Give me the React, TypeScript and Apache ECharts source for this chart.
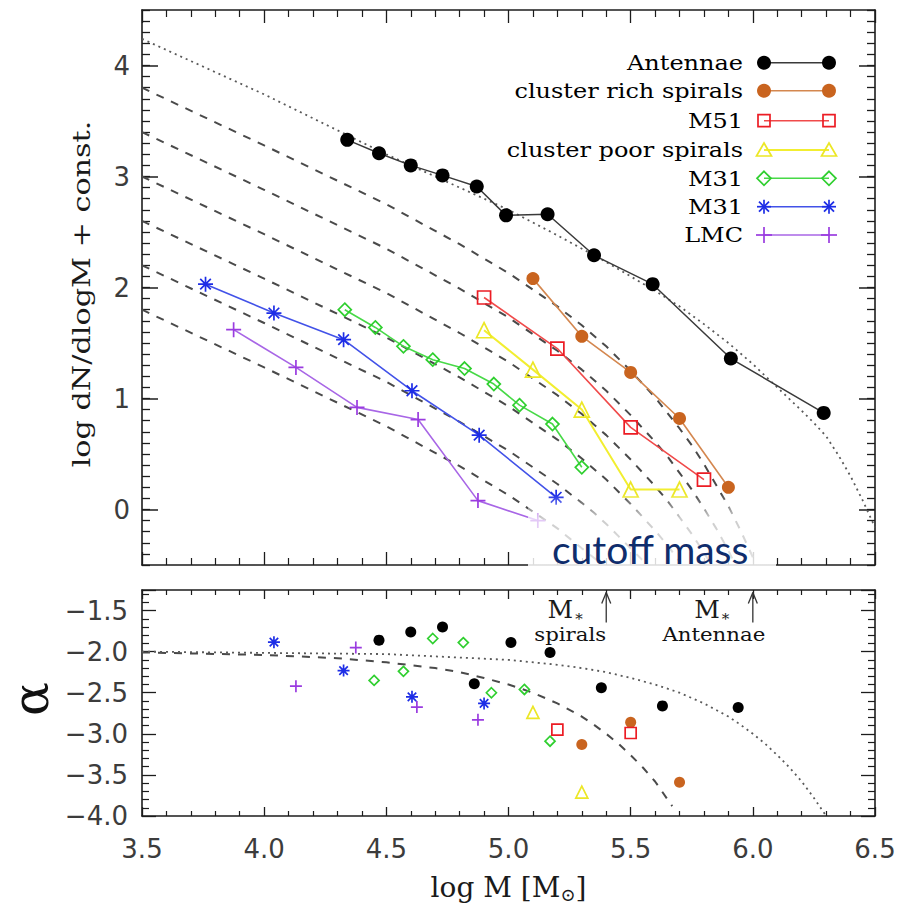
import React, { useEffect, useRef } from "react";
import * as echarts from "echarts";

// ---------------- Data ----------------
// Upper panel: log dN/dlogM + const. versus log M
const antennae: number[][] = [[4.34, 3.33], [4.47, 3.21], [4.60, 3.10], [4.73, 3.01], [4.87, 2.91], [4.99, 2.65], [5.16, 2.66], [5.35, 2.29], [5.59, 2.03], [5.91, 1.36], [6.29, 0.87]];
const clusterRichSpirals: number[][] = [[5.10, 2.08], [5.30, 1.56], [5.50, 1.235], [5.70, 0.82], [5.90, 0.20]];
const m51: number[][] = [[4.90, 1.91], [5.20, 1.45], [5.50, 0.74], [5.80, 0.27]];
const clusterPoorSpirals: number[][] = [[4.90, 1.615], [5.10, 1.26], [5.30, 0.90], [5.50, 0.18], [5.70, 0.18]];
const m31Diamonds: number[][] = [[4.33, 1.80], [4.455, 1.64], [4.57, 1.47], [4.69, 1.35], [4.82, 1.27], [4.94, 1.13], [5.045, 0.94], [5.18, 0.77], [5.30, 0.38]];
const m31Stars: number[][] = [[3.76, 2.03], [4.04, 1.77], [4.325, 1.53], [4.605, 1.07], [4.88, 0.67], [5.195, 0.11]];
const lmc: number[][] = [[3.875, 1.62], [4.13, 1.28], [4.38, 0.92], [4.63, 0.81], [4.875, 0.08], [5.12, -0.10]];

// Upper panel fitted curves (dotted: Antennae, dashed: spirals family)
const antennaeFit: number[][] = [[3.5, 4.24], [4.0, 3.74], [4.5, 3.20], [5.0, 2.70], [5.2, 2.47], [5.4, 2.23], [5.5, 2.10], [5.6, 1.97], [5.7, 1.83], [5.8, 1.67], [5.9, 1.50], [6.0, 1.31], [6.1, 1.10], [6.2, 0.89], [6.25, 0.78], [6.3, 0.66], [6.35, 0.49], [6.4, 0.30], [6.45, 0.08], [6.5, -0.16]];
const spiralFit1: number[][] = [[3.5, 3.80], [4.0, 3.28], [4.5, 2.75], [4.8, 2.39], [5.0, 2.13], [5.1, 1.98], [5.2, 1.83], [5.3, 1.66], [5.4, 1.47], [5.5, 1.25], [5.6, 1.01], [5.7, 0.73], [5.75, 0.58], [5.8, 0.41], [5.85, 0.22], [5.9, 0.03], [5.95, -0.19], [6.0, -0.43]];
const spiralFit2: number[][] = [[3.5, 3.40], [4.0, 2.88], [4.5, 2.35], [4.8, 1.99], [5.0, 1.73], [5.1, 1.58], [5.2, 1.43], [5.3, 1.26], [5.4, 1.07], [5.5, 0.85], [5.6, 0.61], [5.65, 0.48], [5.7, 0.33], [5.75, 0.18], [5.8, 0.01], [5.85, -0.17], [5.9, -0.37], [5.92, -0.46]];
const spiralFit3: number[][] = [[3.5, 3.00], [4.0, 2.48], [4.5, 1.95], [4.8, 1.59], [5.0, 1.33], [5.1, 1.18], [5.2, 1.03], [5.3, 0.86], [5.4, 0.67], [5.5, 0.45], [5.55, 0.33], [5.6, 0.21], [5.65, 0.08], [5.7, -0.07], [5.75, -0.22], [5.8, -0.39], [5.82, -0.46]];
const spiralFit4: number[][] = [[3.5, 2.60], [4.0, 2.08], [4.5, 1.55], [4.8, 1.19], [5.0, 0.93], [5.1, 0.78], [5.2, 0.63], [5.3, 0.46], [5.4, 0.27], [5.45, 0.16], [5.5, 0.05], [5.55, -0.07], [5.6, -0.19], [5.65, -0.32], [5.7, -0.47]];
const spiralFit5: number[][] = [[3.5, 2.20], [4.0, 1.68], [4.5, 1.15], [4.8, 0.79], [5.0, 0.53], [5.1, 0.38], [5.2, 0.23], [5.3, 0.06], [5.35, -0.03], [5.4, -0.13], [5.45, -0.24], [5.5, -0.35], [5.55, -0.46]];
const spiralFit6: number[][] = [[3.5, 1.80], [4.0, 1.28], [4.5, 0.75], [4.8, 0.39], [4.9, 0.26], [5.0, 0.13], [5.1, -0.02], [5.2, -0.17], [5.25, -0.26], [5.3, -0.35], [5.37, -0.47]];

// Lower panel: local slope alpha versus log M
const antennaeAlpha: number[][] = [[4.47, -1.86], [4.60, -1.76], [4.73, -1.70], [4.86, -2.39], [5.01, -1.89], [5.17, -2.01], [5.38, -2.44], [5.63, -2.66], [5.94, -2.68]];
const richAlpha: number[][] = [[5.30, -3.13], [5.50, -2.86], [5.70, -3.59]];
const m51Alpha: number[][] = [[5.20, -2.95], [5.50, -2.99]];
const poorAlpha: number[][] = [[5.10, -2.74], [5.30, -3.71]];
const m31DiamondAlpha: number[][] = [[4.45, -2.35], [4.57, -2.24], [4.69, -1.84], [4.815, -1.89], [4.93, -2.50], [5.065, -2.46], [5.17, -3.09]];
const m31StarAlpha: number[][] = [[4.04, -1.885], [4.325, -2.23], [4.605, -2.55], [4.90, -2.63]];
const lmcAlpha: number[][] = [[4.13, -2.42], [4.375, -1.95], [4.625, -2.675], [4.875, -2.83]];
const spiralAlphaFit: number[][] = [[3.5, -2.01], [4.0, -2.04], [4.3, -2.08], [4.5, -2.13], [4.7, -2.20], [4.8, -2.25], [4.9, -2.32], [5.0, -2.40], [5.1, -2.50], [5.2, -2.63], [5.3, -2.79], [5.35, -2.89], [5.4, -3.00], [5.45, -3.12], [5.5, -3.26], [5.55, -3.41], [5.6, -3.58], [5.67, -3.88]];
const antennaeAlphaFit: number[][] = [[3.5, -2.00], [4.5, -2.03], [5.0, -2.10], [5.2, -2.16], [5.3, -2.20], [5.4, -2.25], [5.5, -2.32], [5.6, -2.40], [5.7, -2.50], [5.8, -2.63], [5.9, -2.79], [5.95, -2.89], [6.0, -3.00], [6.05, -3.12], [6.1, -3.26], [6.15, -3.41], [6.2, -3.58], [6.25, -3.78], [6.3, -4.00]];

// Cutoff masses marked with arrows (log M*) and arrow extent in alpha
const mStarSpirals = 5.4;
const mStarAntennae = 6.0;
const arrowAlpha = [-1.28, -1.645];

// Names, tick values
const seriesNames = ["Antennae", "cluster rich spirals", "M51", "cluster poor spirals", "M31", "M31", "LMC"];
const topYTickValues = [0, 1, 2, 3, 4];
const xRange = [3.5, 6.5];
const topYRange = [-0.5, 4.5];
const alphaRange = [-4.0, -1.25];

// ---------------- Styling ----------------
type Kind = "circle" | "square" | "triangle" | "diamond" | "asterisk" | "plus";
const ASTERISK_PATH = "path://M0,-10L0,10M-10,0L10,0M-7.07,-7.07L7.07,7.07M-7.07,7.07L7.07,-7.07";
const PLUS_PATH = "path://M0,-10L0,10M-10,0L10,0";
const symbolOf: Record<Kind, string> = {
  circle: "circle",
  square: "rect",
  triangle: "triangle",
  diamond: "diamond",
  asterisk: ASTERISK_PATH,
  plus: PLUS_PATH,
};

interface Spec { kind: Kind; mark: string; line: string; lw: number; sTop: number; sBot: number; top: number[][]; bottom: number[][] }
const specs: Spec[] = [
  { kind: "circle", mark: "#000000", line: "#3a3a3a", lw: 1.5, sTop: 14, sBot: 11, top: antennae, bottom: antennaeAlpha },
  { kind: "circle", mark: "#c9641f", line: "#d4874f", lw: 1.6, sTop: 13, sBot: 11, top: clusterRichSpirals, bottom: richAlpha },
  { kind: "square", mark: "#ec1c24", line: "#f04a4a", lw: 1.6, sTop: 13, sBot: 11, top: m51, bottom: m51Alpha },
  { kind: "triangle", mark: "#ece726", line: "#f2ee30", lw: 2, sTop: 15, sBot: 12, top: clusterPoorSpirals, bottom: poorAlpha },
  { kind: "diamond", mark: "#2fcf2f", line: "#47d947", lw: 1.6, sTop: 13, sBot: 10, top: m31Diamonds, bottom: m31DiamondAlpha },
  { kind: "asterisk", mark: "#1d2de6", line: "#4252e8", lw: 1.6, sTop: 15, sBot: 12, top: m31Stars, bottom: m31StarAlpha },
  { kind: "plus", mark: "#9a3be0", line: "#a866e6", lw: 1.6, sTop: 15, sBot: 12, top: lmc, bottom: lmcAlpha },
];

const itemStyleOf = (s: Spec) =>
  s.kind === "circle"
    ? { color: s.mark, borderWidth: 0, opacity: 1 }
    : { color: "rgba(255,255,255,0)", borderColor: s.mark, borderWidth: 1.7, opacity: 1 };

const FRAME = "#1c1c1c";
const LABEL = "#3c3c3c";
const SERIF = "DejaVu Serif";
const SANS = "DejaVu Sans";

function xAxisOf(gridIndex: number, position: "top" | "bottom", big: boolean, labels: boolean): any {
  return {
    type: "value",
    gridIndex,
    position,
    min: xRange[0],
    max: xRange[1],
    interval: 0.5,
    axisLine: { show: true, onZero: false, lineStyle: { color: FRAME, width: 1.6 } },
    axisTick: { show: true, inside: true, length: big ? 13 : 9, lineStyle: { color: FRAME, width: 1.3 } },
    minorTick: { show: true, splitNumber: 5, length: big ? 7 : 5, lineStyle: { color: FRAME, width: 1.2 } },
    splitLine: { show: false },
    axisLabel: labels
      ? {
          show: true,
          margin: 20,
          fontFamily: SANS,
          fontSize: 26,
          color: LABEL,
          alignMinLabel: "center",
          alignMaxLabel: "center",
          formatter: (v: number) => v.toFixed(1),
        }
      : { show: false },
  };
}

function fineY(position: "left" | "right", labels: boolean): any {
  return {
    type: "value",
    gridIndex: 0,
    position,
    min: topYRange[0],
    max: topYRange[1],
    interval: 0.1,
    axisLine: { show: true, onZero: false, lineStyle: { color: FRAME, width: 1.6 } },
    axisTick: { show: true, inside: true, length: 8, lineStyle: { color: FRAME, width: 1.3 } },
    splitLine: { show: false },
    axisLabel: labels
      ? {
          show: true,
          margin: 12,
          fontFamily: SANS,
          fontSize: 26,
          color: LABEL,
          formatter: (v: number) => {
            const r = Math.round(v);
            return Math.abs(v - r) < 1e-6 && topYTickValues.includes(r) ? String(r) : "";
          },
        }
      : { show: false },
  };
}

function majorY(position: "left" | "right"): any {
  return {
    type: "value",
    gridIndex: 0,
    position,
    min: topYRange[0],
    max: topYRange[1],
    axisLine: { show: false },
    axisTick: { show: true, inside: true, length: 16, customValues: topYTickValues, lineStyle: { color: FRAME, width: 1.5 } },
    axisLabel: { show: false },
    splitLine: { show: false },
  };
}

function alphaY(position: "left" | "right", labels: boolean): any {
  return {
    type: "value",
    gridIndex: 1,
    position,
    min: alphaRange[0],
    max: alphaRange[1],
    interval: 0.5,
    axisLine: { show: true, onZero: false, lineStyle: { color: FRAME, width: 1.6 } },
    axisTick: { show: true, inside: true, length: 14, lineStyle: { color: FRAME, width: 1.3 } },
    minorTick: { show: true, splitNumber: 5, length: 7, lineStyle: { color: FRAME, width: 1.2 } },
    splitLine: { show: false },
    axisLabel: labels
      ? {
          show: true,
          margin: 14,
          fontFamily: SANS,
          fontSize: 26,
          color: LABEL,
          showMaxLabel: false,
          formatter: (v: number) =>
            Math.abs(v * 2 - Math.round(v * 2)) < 1e-6 ? v.toFixed(1).replace("-", "\u2212") : "",
        }
      : { show: false },
  };
}

function curve(data: number[][], top: boolean, dotted: boolean): any {
  return {
    type: "line",
    xAxisIndex: top ? 0 : 2,
    yAxisIndex: top ? 0 : 4,
    data,
    smooth: false,
    showSymbol: false,
    symbol: "none",
    silent: true,
    z: 1,
    lineStyle: dotted
      ? { color: "#5a5a5a", width: 1.8, type: [2, 4] }
      : { color: "#4a4a4a", width: 2, type: [8, 8] },
  };
}

function legendMarker(kind: Kind, cx: number, cy: number, color: string): any[] {
  const open = { fill: "none", stroke: color, lineWidth: 1.7 };
  switch (kind) {
    case "circle":
      return [{ type: "circle", z: 120, shape: { cx, cy, r: 7 }, style: { fill: color } }];
    case "square":
      return [{ type: "rect", z: 120, shape: { x: cx - 6, y: cy - 6, width: 12, height: 12 }, style: open }];
    case "triangle":
      return [{ type: "polygon", z: 120, shape: { points: [[cx, cy - 7], [cx + 7.5, cy + 6], [cx - 7.5, cy + 6]] }, style: open }];
    case "diamond":
      return [{ type: "polygon", z: 120, shape: { points: [[cx, cy - 7], [cx + 7, cy], [cx, cy + 7], [cx - 7, cy]] }, style: open }];
    case "asterisk":
      return [
        [0, -7, 0, 7], [-7, 0, 7, 0], [-5, -5, 5, 5], [-5, 5, 5, -5],
      ].map((d) => ({ type: "line", z: 120, shape: { x1: cx + d[0], y1: cy + d[1], x2: cx + d[2], y2: cy + d[3] }, style: { stroke: color, lineWidth: 1.7 } }));
    case "plus":
      return [
        [0, -8, 0, 8], [-8, 0, 8, 0],
      ].map((d) => ({ type: "line", z: 120, shape: { x1: cx + d[0], y1: cy + d[1], x2: cx + d[2], y2: cy + d[3] }, style: { stroke: color, lineWidth: 1.7 } }));
  }
  return [];
}

export default function App() {
  const ref = useRef<HTMLDivElement>(null);

  useEffect(() => {
    if (!ref.current) return;
    const chart = echarts.init(ref.current, null, { renderer: "svg" });

    const series: any[] = [
      curve(antennaeFit, true, true),
      curve(spiralFit1, true, false),
      curve(spiralFit2, true, false),
      curve(spiralFit3, true, false),
      curve(spiralFit4, true, false),
      curve(spiralFit5, true, false),
      curve(spiralFit6, true, false),
      curve(spiralAlphaFit, false, false),
      curve(antennaeAlphaFit, false, true),
    ];
    specs.forEach((s, i) => {
      series.push({
        type: "line",
        name: seriesNames[i],
        xAxisIndex: 0,
        yAxisIndex: 0,
        data: s.top,
        symbol: symbolOf[s.kind],
        symbolSize: s.sTop,
        showSymbol: true,
        silent: true,
        z: 3,
        lineStyle: { color: s.line, width: s.lw },
        itemStyle: itemStyleOf(s),
        emphasis: { disabled: true },
      });
      series.push({
        type: "scatter",
        name: seriesNames[i] + " alpha",
        xAxisIndex: 2,
        yAxisIndex: 4,
        data: s.bottom,
        symbol: symbolOf[s.kind],
        symbolSize: s.sBot,
        silent: true,
        z: 3,
        itemStyle: itemStyleOf(s),
        emphasis: { disabled: true },
      });
    });

    const bottomX = xAxisOf(1, "bottom", false, true);
    bottomX.name = "log M [M{s|\u2299}]";
    bottomX.nameLocation = "middle";
    bottomX.nameGap = 55;
    bottomX.nameTextStyle = {
      fontFamily: SERIF,
      fontSize: 28,
      color: "#1a1a1a",
      rich: { s: { fontFamily: SERIF, fontSize: 18, color: "#1a1a1a", padding: [14, 0, 0, 0] } },
    };

    chart.setOption({
      animation: false,
      backgroundColor: "#ffffff",
      grid: [
        { left: 142, right: 25, top: 10, bottom: 342 },
        { left: 142, right: 25, top: 590, bottom: 91 },
      ],
      xAxis: [
        xAxisOf(0, "bottom", true, false),
        xAxisOf(0, "top", true, false),
        bottomX,
        xAxisOf(1, "top", false, false),
      ],
      yAxis: [
        fineY("left", true),
        majorY("left"),
        fineY("right", false),
        majorY("right"),
        alphaY("left", true),
        alphaY("right", false),
      ],
      series,
    });

    // ----- graphics: axis titles, legend, fade + "cutoff mass", M* arrows -----
    const g: any[] = [];
    g.push({
      type: "text",
      z: 120,
      x: 82,
      y: 294,
      rotation: Math.PI / 2,
      scaleX: 1.26,
      style: { text: "log dN/dlogM + const.", font: `24px '${SERIF}'`, fill: "#1a1a1a", align: "center", verticalAlign: "middle" },
    });
    g.push({
      type: "text",
      z: 120,
      x: 31,
      y: 699,
      rotation: Math.PI / 2,
      style: { text: "\u03b1", font: `50px '${SERIF}'`, lineHeight: 34, fill: "#111", align: "center", verticalAlign: "middle" },
    });
    g.push({
      type: "rect",
      z: 100,
      shape: { x: 528, y: 494, width: 248, height: 76 },
      style: {
        fill: {
          type: "linear", x: 0, y: 0, x2: 0, y2: 1,
          colorStops: [
            { offset: 0, color: "rgba(255,255,255,0)" },
            { offset: 0.32, color: "rgba(255,255,255,0.72)" },
            { offset: 1, color: "rgba(255,255,255,0.86)" },
          ],
        },
      },
    });
    g.push({
      type: "text",
      z: 110,
      x: 552,
      y: 549,
      style: { text: "cutoff mass", font: "39px Lato", fill: "#0f2d6c", align: "left", verticalAlign: "middle" },
    });

    const rowY = [62.7, 90.7, 120.7, 150, 178.3, 206.7, 235];
    specs.forEach((s, i) => {
      const y = rowY[i];
      g.push({
        type: "text",
        z: 120,
        x: 743,
        y,
        scaleX: 1.2,
        style: { text: seriesNames[i], font: `20px '${SERIF}'`, fill: "#000", align: "right", verticalAlign: "middle" },
      });
      g.push({ type: "line", z: 119, shape: { x1: 764, y1: y, x2: 829, y2: y }, style: { stroke: s.line, lineWidth: s.lw } });
      g.push(...legendMarker(s.kind, 764, y, s.mark));
      g.push(...legendMarker(s.kind, 829, y, s.mark));
    });

    const arrows = [
      { m: mStarSpirals, label: "spirals", dx: -36 },
      { m: mStarAntennae, label: "Antennae", dx: -39 },
    ];
    arrows.forEach((a) => {
      const pTop = chart.convertToPixel({ gridIndex: 1 } as any, [a.m, arrowAlpha[0]]) as number[];
      const pBot = chart.convertToPixel({ gridIndex: 1 } as any, [a.m, arrowAlpha[1]]) as number[];
      const x = pTop[0];
      g.push({ type: "line", z: 120, shape: { x1: x, y1: pTop[1], x2: x, y2: pBot[1] }, style: { stroke: "#333", lineWidth: 1.3 } });
      g.push({ type: "line", z: 120, shape: { x1: x, y1: pTop[1], x2: x - 4.5, y2: pTop[1] + 11 }, style: { stroke: "#333", lineWidth: 1.3 } });
      g.push({ type: "line", z: 120, shape: { x1: x, y1: pTop[1], x2: x + 4.5, y2: pTop[1] + 11 }, style: { stroke: "#333", lineWidth: 1.3 } });
      g.push({
        type: "text", z: 120, x: x - 33, y: 609,
        style: { text: "M", font: `25px '${SERIF}'`, fill: "#1a1a1a", align: "right", verticalAlign: "middle" },
      });
      g.push({
        type: "text", z: 120, x: x - 31, y: 619,
        style: { text: "*", font: `15px '${SERIF}'`, fill: "#1a1a1a", align: "left", verticalAlign: "middle" },
      });
      g.push({
        type: "text", z: 120, x: x + a.dx, y: 634, scaleX: 1.12,
        style: { text: a.label, font: `19px '${SERIF}'`, fill: "#111", align: "center", verticalAlign: "middle" },
      });
    });

    chart.setOption({ graphic: { elements: g } });

    return () => {
      chart.dispose();
    };
  }, []);

  return <div ref={ref} style={{ position: "absolute", left: 0, top: 0, width: 900, height: 907 }} />;
}
